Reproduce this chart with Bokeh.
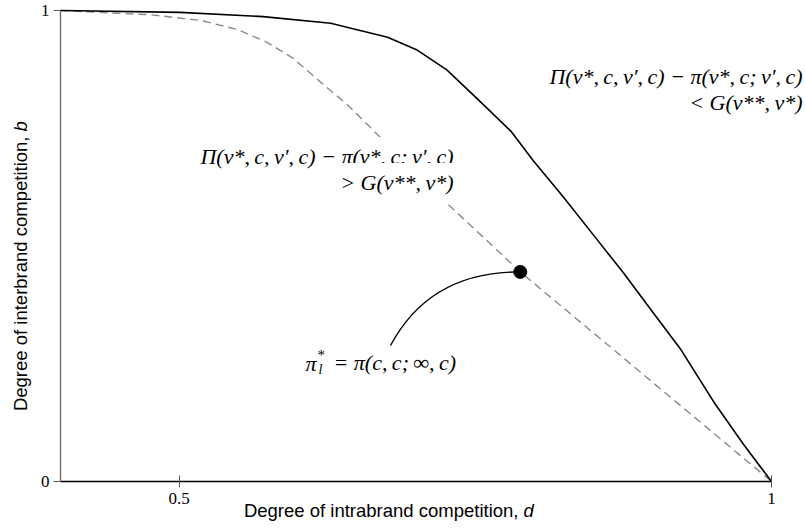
import math
from bokeh.plotting import figure
from bokeh.models import Range1d, Label, FixedTicker
from bokeh.embed import file_html
from bokeh.resources import INLINE

# ---- data ----
d_solid = [0.400, 0.501, 0.571, 0.628, 0.676, 0.701, 0.726, 0.754, 0.780,
           0.799, 0.824, 0.853, 0.875, 0.900, 0.923, 0.951, 0.976, 1.000]
b_solid = [1.000, 0.996, 0.987, 0.973, 0.943, 0.916, 0.874, 0.807, 0.744,
           0.681, 0.605, 0.513, 0.443, 0.359, 0.282, 0.170, 0.080, 0.000]

d_dash = [0.400, 0.433, 0.476, 0.518, 0.549, 0.574, 0.596, 0.619, 0.642,
          0.659, 0.720, 0.780, 0.788, 1.000]
b_dash = [1.000, 0.996, 0.991, 0.979, 0.960, 0.933, 0.899, 0.849, 0.800,
          0.758, 0.605, 0.464, 0.445, 0.000]

pi_d = [0.788]
pi_b = [0.445]

x_ticks = [0.5, 1]
x_tick_labels = ["0.5", "1"]
y_ticks = [0, 1]
y_tick_labels = ["0", "1"]

x_label = "Degree of intrabrand competition,"
x_label_var = "d"
y_label = "Degree of interbrand competition,"
y_label_var = "b"

mid_line1 = "Π(v*,\u2009c,\u2009v′,\u2009c) − π(v*,\u2009c;\u2009v′,\u2009c)"
mid_line2 = "> G(v**,\u2009v*)"
right_line1 = "Π(v*,\u2009c,\u2009v′,\u2009c) − π(v*,\u2009c;\u2009v′,\u2009c)"
right_line2 = "< G(v**,\u2009v*)"
pi_rhs = "= π(c,\u2009c;\u2009∞,\u2009c)"

# ---- layout: the frame covers the whole canvas, axes sit at fixed locations ----
W, H = 805, 528
PX_PER_X = 1185.0      # pixels per unit of d
PX_PER_Y = 471.0       # pixels per unit of b
X0 = 0.4 - 60 / PX_PER_X
X1 = X0 + W / PX_PER_X
Y1 = 1 + 10 / PX_PER_Y
Y0 = Y1 - H / PX_PER_Y

p = figure(width=W, height=H, x_range=Range1d(X0, X1), y_range=Range1d(Y0, Y1),
           output_backend="svg", toolbar_location=None,
           min_border_left=0, min_border_right=0, min_border_top=0, min_border_bottom=0)
p.grid.visible = False
p.outline_line_color = None
p.background_fill_color = "white"
p.border_fill_color = "white"

SERIF = "Liberation Serif"
SANS = "Liberation Sans"

xa = p.xaxis[0]
xa.fixed_location = 0
xa.ticker = FixedTicker(ticks=x_ticks)
xa.major_label_overrides = {t: s for t, s in zip(x_ticks, x_tick_labels)}
xa.bounds = (0.4, 1.0)
xa.axis_line_color = "black"
xa.axis_line_width = 1.3
xa.major_tick_in = 6
xa.major_tick_out = 6
xa.major_tick_line_color = "#555555"
xa.minor_tick_line_color = None
xa.major_label_standoff = 5
xa.major_label_text_font = SERIF
xa.major_label_text_font_size = "17px"
xa.major_label_text_color = "black"

ya = p.yaxis[0]
ya.fixed_location = 0.4
ya.ticker = FixedTicker(ticks=y_ticks)
ya.major_label_overrides = {t: s for t, s in zip(y_ticks, y_tick_labels)}
ya.bounds = (0, 1)
ya.axis_line_color = "#666666"
ya.axis_line_width = 1.3
ya.major_tick_in = 0
ya.major_tick_out = 7
ya.major_tick_line_color = "#555555"
ya.minor_tick_line_color = None
ya.major_label_standoff = 4
ya.major_label_text_font = SERIF
ya.major_label_text_font_size = "17px"
ya.major_label_text_color = "black"

# ---- curves ----
p.line(d_dash, b_dash, line_color="#8a8a8a", line_width=1.4, line_dash="8 5")
p.line(d_solid, b_solid, line_color="black", line_width=1.6)


# ---- annotation helpers (pixel layout -> data) ----
def dx(px):
    return X0 + px / PX_PER_X


def dy(py):
    return Y1 - py / PX_PER_Y


# leader curve from the formula to the point
p.bezier(x0=[dx(390)], y0=[dy(345)], x1=pi_d, y1=pi_b,
         cx0=[dx(413)], cy0=[dy(302)], cx1=[dx(452)], cy1=[dy(271)],
         line_color="black", line_width=1.4)
p.scatter(pi_d, pi_b, size=13, color="black")


def lab(text, px, py, align="left", size="22px", font=SERIF, style="italic",
        bg=None, angle=0.0, pad=0):
    kw = {}
    if bg is not None:
        kw = dict(background_fill_color=bg, padding=pad)
    l = Label(x=dx(px), y=dy(py), text=text, text_align=align, text_baseline="middle",
              text_font=font, text_font_size=size, text_font_style=style,
              text_color="black", angle=angle, **kw)
    p.add_layout(l)


# middle region text (white box hides the dashed line behind it)
lab(mid_line1, 460, 156, align="right", bg="white", pad=7)
lab(mid_line2, 460, 182, align="right", bg="white", pad=7)

# right region text
lab(right_line1, 802, 76, align="right")
lab(right_line2, 802, 102, align="right")

# pi_l^* label
lab("π", 305, 363)
lab("*", 317, 354, size="15px", style="normal")
lab("l", 318, 369, size="14px")
lab(pi_rhs, 333, 362)

# axis titles
lab(x_label, 518, 510, align="right", size="18.5px", font=SANS, style="normal")
lab(x_label_var, 523, 510, align="left", size="18.5px", font=SANS, style="italic")
lab(y_label, 20, 136, align="right", size="18.5px", font=SANS, style="normal", angle=math.pi / 2)
lab(y_label_var, 20, 131, align="left", size="18.5px", font=SANS, style="italic", angle=math.pi / 2)

open("out.html", "w").write(file_html(p, INLINE))
